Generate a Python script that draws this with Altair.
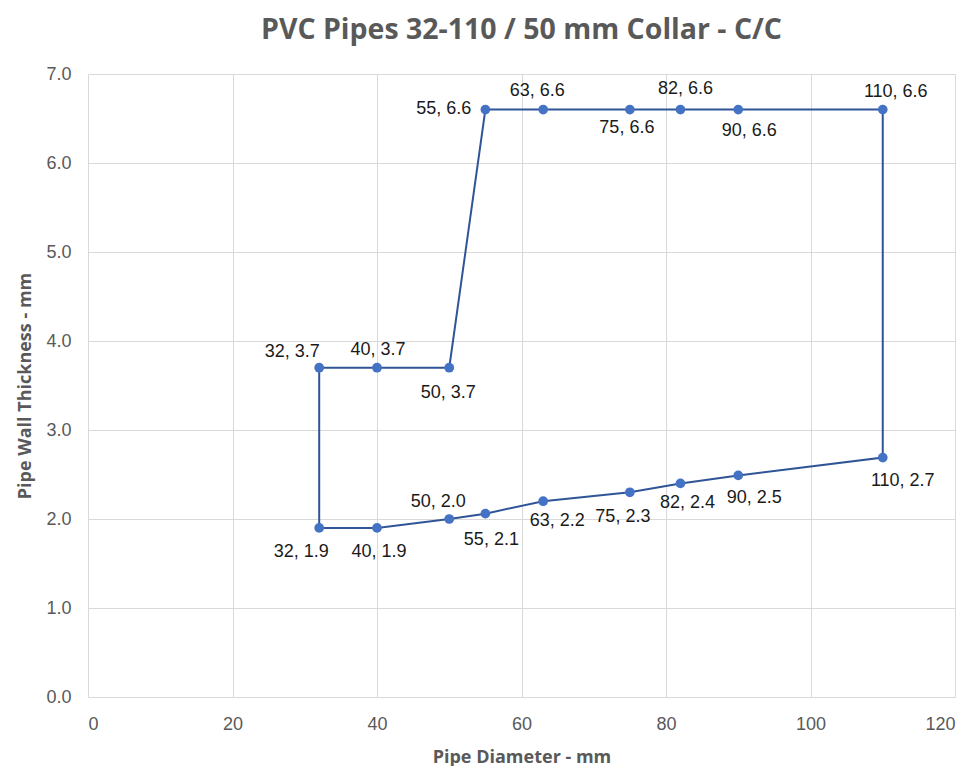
import altair as alt
import pandas as pd

# Path order of the outline
diameter = [32, 40, 50, 55, 63, 75, 82, 90, 110, 110, 90, 82, 75, 63, 55, 50, 40, 32, 32]
thickness = [1.9, 1.9, 2.0, 2.06, 2.2, 2.3, 2.4, 2.49, 2.69, 6.6, 6.6, 6.6, 6.6, 6.6, 6.6, 3.7, 3.7, 3.7, 1.9]
labels = ["32, 1.9", "40, 1.9", "50, 2.0", "55, 2.1", "63, 2.2", "75, 2.3", "82, 2.4", "90, 2.5",
          "110, 2.7", "110, 6.6", "90, 6.6", "82, 6.6", "75, 6.6", "63, 6.6", "55, 6.6",
          "50, 3.7", "40, 3.7", "32, 3.7", ""]

# label placement style (pixel offsets of each label from its point)
label_style = [(-18, 24, "center"), (2, 24, "center"), (-11, -17, "center"), (6, 26, "center"),
               (14, 20, "center"), (-7, 25, "center"), (7, 20, "center"), (16, 23, "center"),
               (20, 23, "center"), (13, -18, "center"), (11, 21, "center"), (5, -21, "center"),
               (-3, 18, "center"), (-6, -19, "center"), (-14, -1, "right"),
               (-1, 25, "center"), (1, -18, "center"), (-27, -16, "center"), None]

df = pd.DataFrame({
    "d": diameter, "t": thickness, "label": labels,
    "order": list(range(len(diameter))),
})

BLUE = "#4472C4"
LINE = "#2F5597"
x = alt.X("d:Q", title="Pipe Diameter - mm",
          scale=alt.Scale(domain=[0, 120], nice=False),
          axis=alt.Axis(values=[0, 20, 40, 60, 80, 100, 120], format="d"))
y = alt.Y("t:Q", title="Pipe Wall Thickness - mm",
          scale=alt.Scale(domain=[0, 7], nice=False),
          axis=alt.Axis(values=[0, 1, 2, 3, 4, 5, 6, 7], format=".1f"))

base = alt.Chart(df).encode(x=x, y=y)

line = base.mark_line(color=LINE, strokeWidth=2).encode(order="order:Q")
points = base.transform_filter("datum.label != ''").mark_circle(
    color=BLUE, opacity=1, size=95)

texts = []
for i, st in enumerate(label_style):
    if st is None:
        continue
    dx, dy, al = st
    texts.append(
        base.transform_filter(f"datum.order == {i}").mark_text(
            font="Liberation Sans", fontSize=18, color="#1a1a1a",
            baseline="middle", align=al, dx=dx, dy=dy
        ).encode(text="label:N")
    )

chart = alt.layer(line, points, *texts).properties(
    width=867, height=623,
    title=alt.TitleParams("PVC Pipes 32-110 / 50 mm Collar - C/C",
                          font="Open Sans", fontSize=28.5, fontWeight="bold",
                          color="#595959", offset=21),
).configure_axis(
    grid=True, gridColor="#d9d9d9", domain=False, ticks=False,
    labelFont="Liberation Sans", labelFontSize=18, labelColor="#595959",
    titleFont="Open Sans", titleFontSize=18, titleFontWeight="bold", titleColor="#595959",
).configure_axisY(labelPadding=17, titlePadding=11).configure_axisX(
    labelPadding=18, titlePadding=15
).configure_view(
    stroke=None
).properties(padding={"left": 8, "top": 7, "right": 10, "bottom": 0})

chart.save("out.html", embed_options={"renderer": "svg", "actions": False})
